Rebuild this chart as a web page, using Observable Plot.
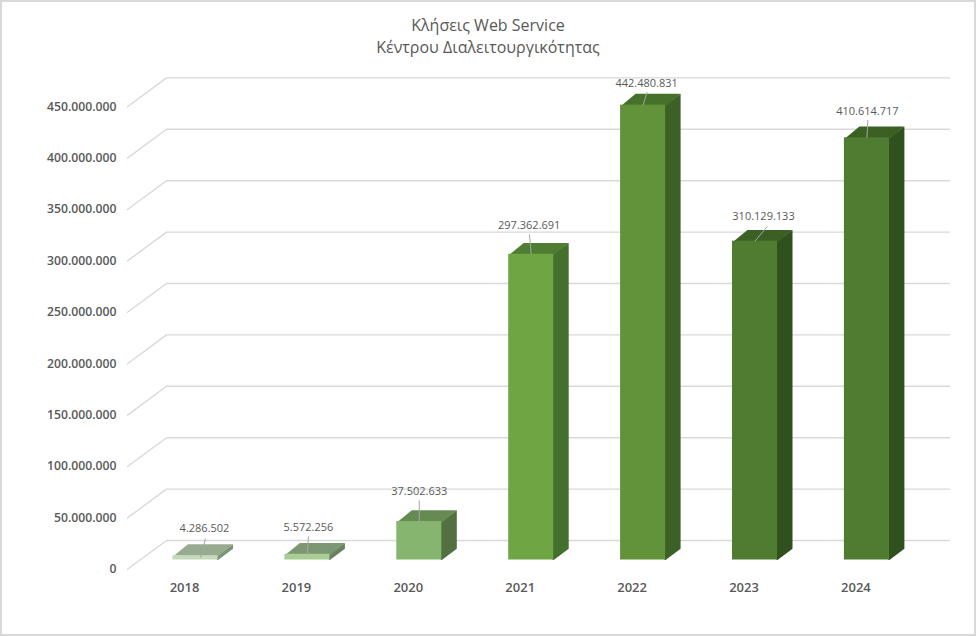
<!DOCTYPE html>
<html lang="el">
<head>
<meta charset="utf-8">
<script src="https://cdn.jsdelivr.net/npm/d3@7"></script>
<script src="https://cdn.jsdelivr.net/npm/@observablehq/plot@0.6"></script>
<style>
  html, body { margin: 0; padding: 0; background: #fff; overflow: hidden; }
  #page { position: relative; width: 976px; height: 636px; background: #fff; font-family: "Open Sans", sans-serif; }
  #title { height: 60px; box-sizing: border-box; padding-top: 13.5px; text-align: center; color: #595959; font-size: 16px; line-height: 22px; }
  #edge { position: absolute; inset: 0; border: 2px solid #d9d9d9; box-sizing: border-box; pointer-events: none; }
  svg { display: block; }
</style>
</head>
<body>
<div id="page">
  <div id="title">Κλήσεις Web Service<br>Κέντρου Διαλειτουργικότητας</div>
  <div id="chart"></div>
  <div id="edge"></div>
</div>
<script>
// Data
const years = [2018, 2019, 2020, 2021, 2022, 2023, 2024];
const calls = [4286502, 5572256, 37502633, 297362691, 442480831, 310129133, 410614717];
const valueTicks = [0, 50e6, 100e6, 150e6, 200e6, 250e6, 300e6, 350e6, 400e6, 450e6];

// Palette, one entry per year
const frontColors = ["#c6d9ba", "#a9cd94", "#85b56e", "#6fa542", "#62923a", "#4f7c30", "#4f7c30"];
const topColors   = ["#98aa90", "#7b9872", "#668b50", "#4f7d33", "#47702a", "#3b6024", "#3b6024"];
const sideColors  = ["#7c9274", "#6a8160", "#527040", "#44702e", "#3c6025", "#30501d", "#30501d"];

// Layout: pixels converted to scale units so that everything goes through the scales
const W = 976, H = 576, TOP = 60;
const xRange = [195, 866.4], yRange = [559.5 - TOP, 559.5 - TOP - 462.6];
const pxX = (xRange[1] - xRange[0]) / (years[6] - years[0]);
const pxY = (yRange[0] - yRange[1]) / valueTicks[9];
const ux = (px) => px / pxX;
const uy = (px) => px / pxY;
const halfBar = ux(22.5), depthX = ux(15), depthY = uy(11.3), seam = ux(1);

// [leader start dx,dy, leader end dx,dy, label dx,dy] from the top-centre of each bar
const callouts = [
  [5, 2, 10, -17, 9, -27],
  [0, 0, 1, -18, 1, -27],
  [0, 0, 0, -21, 0, -30],
  [0, 0, -1.7, -20, -2, -29],
  [0, 0, 4, -13, 3.5, -21.6],
  [0, 0, 12.5, -15, 8.5, -24.7],
  [0, 0, 1, -18, 0.5, -26]
];

const bars = years.map((year, i) => ({
  year, value: calls[i], front: frontColors[i], top: topColors[i], side: sideColors[i], call: callouts[i]
}));
const elNumber = (v) => d3.format(",")(v).replace(/,/g, ".");

// Floor-to-wall gridlines
const gridFrontX = years[0] + ux(127 - 195), gridBackX = years[0] + ux(166 - 195), gridEndX = years[0] + ux(949 - 195);
const grid = valueTicks.flatMap((t) => [
  {t, x: gridFrontX, y: t - uy(9.3)},
  {t, x: gridBackX, y: t + uy(19.5)},
  {t, x: gridEndX, y: t + uy(19.5)}
]);

// Top and side faces as closed polygons; each runs slightly under the front face
const topFaces = bars.flatMap((b) => [
  [b.year - halfBar, b.value - uy(1)], [b.year + halfBar, b.value - uy(1)],
  [b.year + halfBar + depthX, b.value + depthY], [b.year - halfBar + depthX, b.value + depthY]
].map(([x, y]) => ({x, y, id: b.year, fill: b.top})));
const sideFaces = bars.flatMap((b) => [
  [b.year + halfBar - seam, 0], [b.year + halfBar, 0], [b.year + halfBar + depthX, depthY],
  [b.year + halfBar + depthX, b.value + depthY], [b.year + halfBar, b.value], [b.year + halfBar - seam, b.value]
].map(([x, y]) => ({x, y, id: b.year, fill: b.side})));

const chart = Plot.plot({
  width: W, height: H,
  marginLeft: 117, marginRight: 0, marginTop: 0, marginBottom: 56,
  x: {type: "linear", domain: [years[0], years[6]], range: xRange},
  y: {type: "linear", domain: [0, valueTicks[9]], range: yRange},
  color: {type: "identity"},
  style: {fontFamily: '"Open Sans", sans-serif', background: "transparent", overflow: "visible"},
  marks: [
    Plot.line(grid, {x: "x", y: "y", z: "t", stroke: "#d9d9d9", strokeWidth: 1.4}),
    Plot.line(sideFaces, {x: "x", y: "y", z: "id", fill: "fill", stroke: "none", curve: "linear-closed"}),
    Plot.line(topFaces, {x: "x", y: "y", z: "id", fill: "fill", stroke: "none", curve: "linear-closed"}),
    Plot.rect(bars, {x1: (d) => d.year - halfBar, x2: (d) => d.year + halfBar, y1: 0, y2: "value", fill: "front", inset: 0}),
    Plot.link(bars, {
      x1: (d) => d.year + ux(d.call[0]), y1: (d) => d.value - uy(d.call[1]),
      x2: (d) => d.year + ux(d.call[2]), y2: (d) => d.value - uy(d.call[3]),
      stroke: "#a6a6a6", strokeWidth: 1
    }),
    Plot.text(bars, {
      x: (d) => d.year + ux(d.call[4]), y: (d) => d.value - uy(d.call[5]),
      text: (d) => elNumber(d.value), fill: "#595959", fontSize: 11
    }),
    Plot.axisY(valueTicks, {
      anchor: "left", label: null, tickSize: 0, tickPadding: 1, dy: 9.3,
      tickFormat: elNumber, fontSize: 12.2, fontWeight: 600, fill: "#595959"
    }),
    Plot.axisX(years, {
      anchor: "bottom", label: null, tickSize: 0, tickPadding: 2, dx: -11,
      tickFormat: (d) => String(d), fontSize: 13, fontWeight: 600, fill: "#595959"
    })
  ]
});
document.getElementById("chart").appendChild(chart);
</script>
</body>
</html>
